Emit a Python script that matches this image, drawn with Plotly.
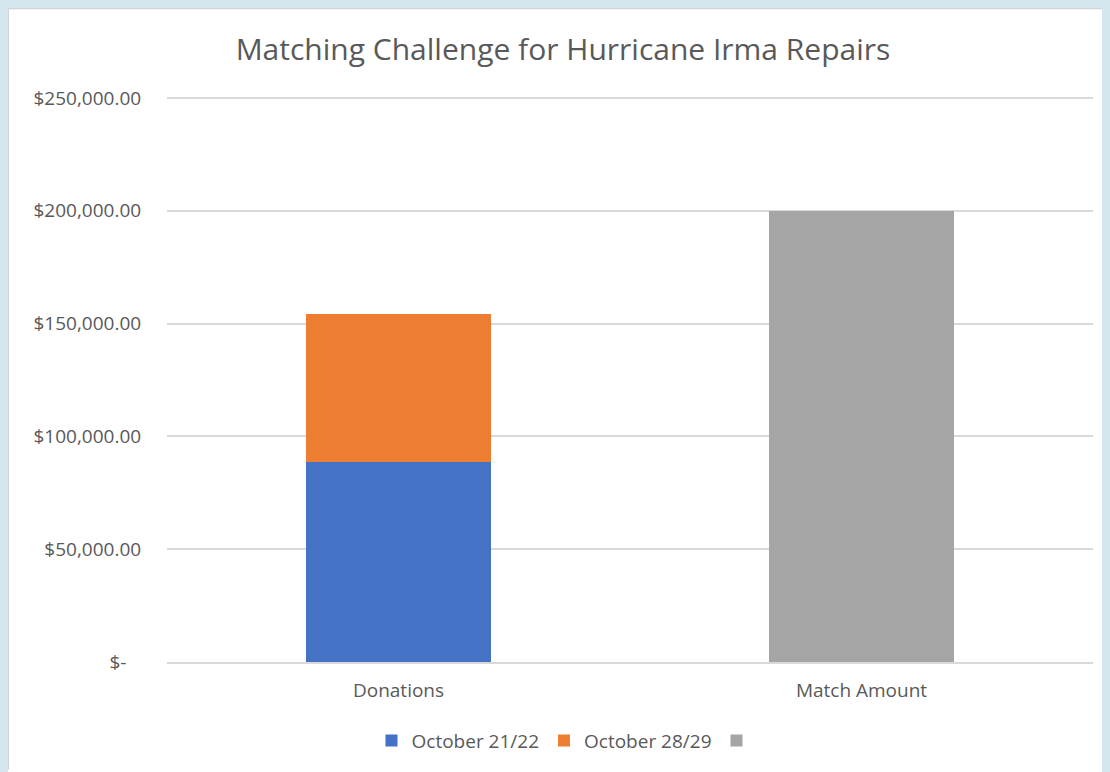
import plotly.graph_objects as go

categories = ["Donations", "Match Amount"]
oct_21_22 = [88700, None]
oct_28_29 = [65400, None]
match_amount = [None, 200000]
series_names = ["October 21/22", "October 28/29", " "]
colors = ["#4472c4", "#ed7d31", "#a5a5a5"]
tick_vals = [0, 50000, 100000, 150000, 200000, 250000]
tick_text = ["$-\u00a0\u00a0\u00a0", "$50,000.00", "$100,000.00", "$150,000.00", "$200,000.00", "$250,000.00"]

W, H = 1102, 764
L, R, T, B = 159, 17, 88, 108
pw, ph = W - L - R, H - T - B
y_top = 250000 * ph / 566.0

fig = go.Figure()
for vals, nm, c in zip([oct_21_22, oct_28_29, match_amount], series_names, colors):
    fig.add_trace(go.Bar(x=categories, y=vals, name=nm, marker=dict(color=c, line=dict(width=0))))

fig.update_layout(
    width=W, height=H,
    barmode="stack", bargap=0.6,
    margin=dict(l=L, r=R, t=T, b=B, pad=0),
    paper_bgcolor="white",
    plot_bgcolor="white",
    font=dict(family="Open Sans", color="#595959"),
    title=dict(text="Matching Challenge for Hurricane Irma Repairs", x=555 / W, xanchor="center",
               y=1 - 41 / H, yanchor="middle", font=dict(size=30, color="#595959")),
    showlegend=True,
    legend=dict(orientation="h", x=(561 - L) / pw, xanchor="center", y=-79 / ph, yanchor="middle",
                bgcolor="rgba(0,0,0,0)",
                font=dict(size=19, color="#595959"), traceorder="normal", itemwidth=30),
    shapes=[
        dict(type="line", xref="paper", yref="paper", x0=-L / pw, x1=-L / pw, y0=-B / ph, y1=1 + T / ph,
             line=dict(color="#cfd4d8", width=2)),
        dict(type="line", xref="paper", yref="paper", x0=-L / pw, x1=1 + R / pw, y0=1 + T / ph, y1=1 + T / ph,
             line=dict(color="#cfd4d8", width=2)),
    ],
)
fig.update_yaxes(range=[0, y_top], tickvals=tick_vals, ticktext=tick_text,
                 gridcolor="#d9d9d9", gridwidth=1.5, zeroline=False,
                 showline=False, ticks="outside", ticklen=21, tickcolor="rgba(0,0,0,0)",
                 tickfont=dict(size=19, color="#595959"))
fig.update_xaxes(showline=True, linecolor="#d9d9d9", linewidth=1.5, ticks="outside", ticklen=10,
                 tickcolor="rgba(0,0,0,0)", tickfont=dict(size=19, color="#595959"))

fig.write_html("out.html", post_script="document.body.style.background='#d6e6ef';")
